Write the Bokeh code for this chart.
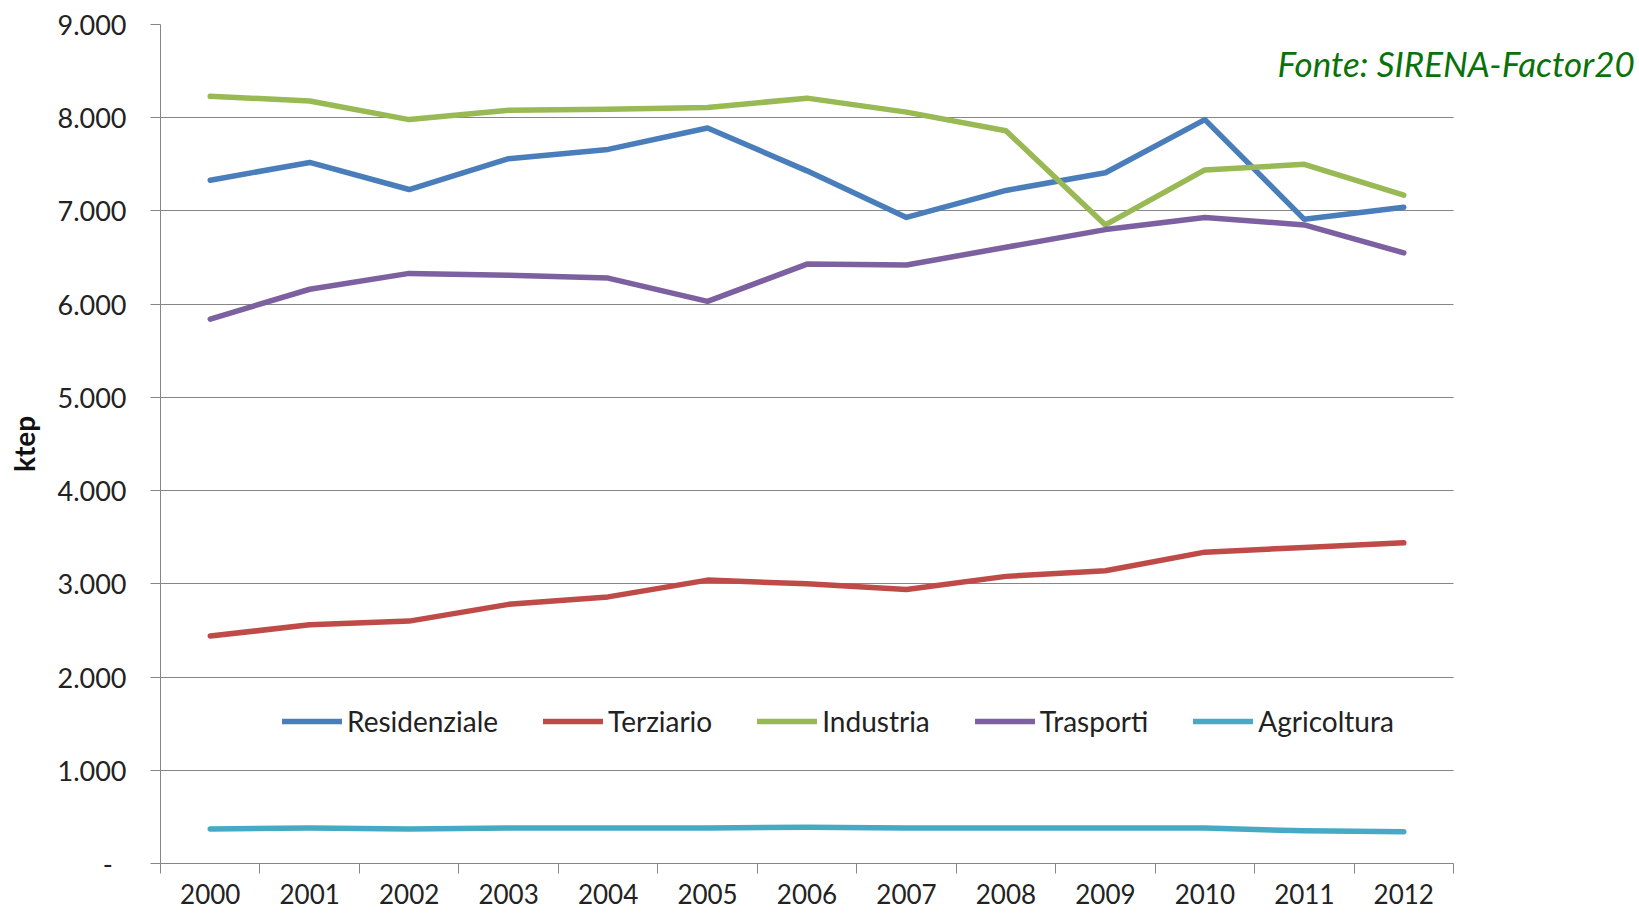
from bokeh.plotting import figure
from bokeh.models import Range1d, FixedTicker, Legend, LegendItem, Label
from bokeh.embed import file_html
from bokeh.resources import INLINE

years = [2000, 2001, 2002, 2003, 2004, 2005, 2006, 2007, 2008, 2009, 2010, 2011, 2012]
residenziale = [7330, 7520, 7230, 7560, 7660, 7890, 7430, 6930, 7220, 7410, 7980, 6910, 7040]
terziario = [2440, 2560, 2600, 2780, 2860, 3040, 3000, 2940, 3080, 3140, 3340, 3390, 3440]
industria = [8230, 8180, 7980, 8080, 8090, 8110, 8210, 8060, 7860, 6850, 7440, 7500, 7170]
trasporti = [5840, 6160, 6330, 6310, 6280, 6030, 6430, 6420, 6610, 6800, 6930, 6850, 6550]
agricoltura = [370, 380, 370, 380, 380, 380, 390, 380, 380, 380, 380, 350, 340]

series = [
    ("Residenziale", residenziale, "#4A7EBB"),
    ("Terziario", terziario, "#BE4B48"),
    ("Industria", industria, "#98B954"),
    ("Trasporti", trasporti, "#7D60A0"),
    ("Agricoltura", agricoltura, "#46AAC5"),
]
y_ticks = [0, 1000, 2000, 3000, 4000, 5000, 6000, 7000, 8000, 9000]
source_text = "Fonte: SIRENA-Factor20"

FONT = "Lato"
GRID = "#868686"

W, H = 1639, 918
LEFT, TOP, BOTTOM = 160, 24, 55
AXIS_RIGHT = 1453              # pixel where the chart area visually ends
RIGHT = 4                      # frame extends to the right so the source text is not clipped
x0 = years[0] - 0.5
x1_axis = years[-1] + 0.5
px_per_year = (AXIS_RIGHT - LEFT) / (x1_axis - x0)
x1_frame = x0 + (W - RIGHT - LEFT) / px_per_year

p = figure(width=W, height=H, output_backend="svg", toolbar_location=None,
           x_range=Range1d(x0, x1_frame),
           y_range=Range1d(y_ticks[0], y_ticks[-1]),
           min_border_left=LEFT, min_border_right=RIGHT, min_border_top=TOP, min_border_bottom=BOTTOM)
p.outline_line_color = None
p.background_fill_color = "white"
p.border_fill_color = "white"

items = []
for name, vals, col in series:
    r = p.line(years, vals, line_color=col, line_width=5.5, line_cap="round", line_join="round")
    items.append(LegendItem(label=name, renderers=[r]))

# x axis
xa = p.xaxis[0]
xa.bounds = (x0, x1_axis)
xa.ticker = FixedTicker(ticks=years, minor_ticks=[y - 0.5 for y in years] + [x1_axis])
xa.major_label_overrides = {y: str(y) for y in years}
xa.major_tick_out = 0
xa.major_tick_in = 0
xa.minor_tick_out = 10
xa.minor_tick_in = 0
xa.minor_tick_line_color = GRID
xa.axis_line_color = GRID
xa.major_label_text_font = FONT
xa.major_label_text_font_size = "26px"
xa.major_label_text_color = "#222222"
xa.major_label_standoff = 10

# y axis
ya = p.yaxis[0]
ya.ticker = FixedTicker(ticks=y_ticks)
ya.major_label_overrides = {v: ("-\u00a0\u00a0" if v == 0 else f"{v:,}".replace(",", ".")) for v in y_ticks}
ya.major_tick_out = 10
ya.major_tick_in = 0
ya.major_tick_line_color = GRID
ya.minor_tick_line_color = None
ya.axis_line_color = GRID
ya.major_label_text_font = FONT
ya.major_label_text_font_size = "27px"
ya.major_label_text_color = "#222222"
ya.major_label_standoff = 24
ya.axis_label = "ktep"
ya.axis_label_text_font = FONT
ya.axis_label_text_font_style = "bold"
ya.axis_label_text_font_size = "28px"
ya.axis_label_text_color = "#111111"
ya.axis_label_standoff = 13

p.xgrid.grid_line_color = None
p.ygrid.grid_line_color = GRID
p.ygrid.grid_line_width = 1
p.ygrid.cross_bounds = (x0, x1_axis)

legend = Legend(items=items, orientation="horizontal", location=(122, 125),
                glyph_width=60, glyph_height=20, label_standoff=5, spacing=45,
                padding=0, margin=0,
                label_text_font=FONT, label_text_font_size="28px", label_text_color="#222222",
                background_fill_alpha=0, border_line_alpha=0)
p.add_layout(legend, "center")

src = Label(x=x0 + (1277 - LEFT) / px_per_year, y=y_ticks[-1] - (62 - TOP) / (H - TOP - BOTTOM) * y_ticks[-1],
            text=source_text, text_font=FONT,
            text_font_style="italic", text_font_size="35px", text_color="#0A720A",
            text_baseline="middle", text_align="left")
p.add_layout(src)

open("out.html", "w").write(file_html(p, INLINE))
